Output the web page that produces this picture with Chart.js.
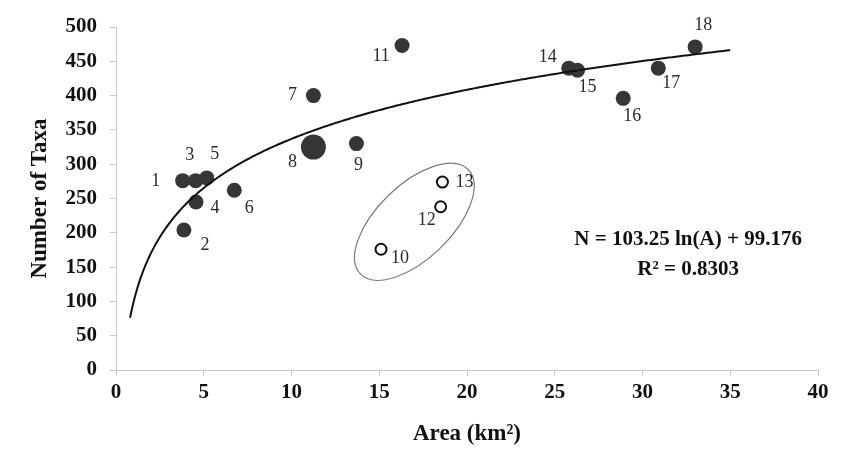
<!DOCTYPE html>
<html>
<head>
<meta charset="utf-8">
<script src="https://cdn.jsdelivr.net/npm/chart.js@4"></script>
<style>
  html, body { margin: 0; padding: 0; background: #fff; }
  #wrap { width: 855px; height: 472px; }
</style>
</head>
<body>
<div id="wrap"><canvas id="taxa-chart" width="855" height="472"></canvas></div>
<script>
'use strict';

// Sites
var siteIds = [1, 2, 3, 4, 5, 6, 7, 8, 9, 10, 11, 12, 13, 14, 15, 16, 17, 18];
var areas = [3.80, 3.87, 4.54, 4.56, 5.17, 6.74, 11.25, 11.25, 13.7, 15.1, 16.3, 18.5, 18.6, 25.8, 26.3, 28.9, 30.9, 33.0];
var taxa = [276, 204, 276, 245, 280, 262, 400, 325, 330, 176, 473, 238, 274, 440, 437, 396, 440, 471];
var openSites = [10, 12, 13];
var bigSites = [8];

// Fitted log curve shown on the chart
var fitSlope = 103.25;
var fitIntercept = 99.176;
var fitRange = [0.8, 35];
var equationLines = ['N = 103.25 ln(A) + 99.176', 'R\u00b2 = 0.8303'];

// Label offsets (px) for each site number
var labelOffsets = {
  1: [-27, 1], 2: [21, 15], 3: [-6, -25], 4: [19, 6], 5: [8, -24], 6: [15, 18],
  7: [-21, 0], 8: [-21, 15], 9: [2, 22], 10: [19, 9], 11: [-21, 11], 12: [-14, 14],
  13: [22, 0], 14: [-21, -11], 15: [10, 17], 16: [9, 18], 17: [13, 15], 18: [8, -22]
};

var filledPts = [];
var bigPts = [];
var openPts = [];
for (var i = 0; i < siteIds.length; i++) {
  var p = { x: areas[i], y: taxa[i], id: siteIds[i] };
  if (openSites.indexOf(siteIds[i]) >= 0) openPts.push(p);
  else if (bigSites.indexOf(siteIds[i]) >= 0) bigPts.push(p);
  else filledPts.push(p);
}

var curvePts = [];
for (var a = fitRange[0]; a <= fitRange[1] + 1e-9; a += 0.1) {
  curvePts.push({ x: a, y: fitSlope * Math.log(a) + fitIntercept });
}

var serif = "'Liberation Serif', 'Times New Roman', serif";

// Site numbers, ellipse round the open sites, and the equation
var annotations = {
  id: 'annotations',
  afterDatasetsDraw: function (chart) {
    var ctx = chart.ctx;
    var xs = chart.scales.x, ys = chart.scales.y;
    ctx.save();
    // ellipse
    ctx.beginPath();
    ctx.strokeStyle = '#7a7a7a';
    ctx.lineWidth = 1.2;
    ctx.ellipse(xs.getPixelForValue(17.0), ys.getPixelForValue(216), 75, 37, -44 * Math.PI / 180, 0, Math.PI * 2);
    ctx.stroke();

    ctx.fillStyle = '#2a2a2a';
    ctx.font = '18px ' + serif;
    ctx.textAlign = 'center';
    ctx.textBaseline = 'middle';
    for (var i = 0; i < siteIds.length; i++) {
      var off = labelOffsets[siteIds[i]];
      ctx.fillText(String(siteIds[i]), xs.getPixelForValue(areas[i]) + off[0], ys.getPixelForValue(taxa[i]) + off[1]);
    }

    ctx.font = 'bold 21px ' + serif;
    ctx.fillStyle = '#111';
    ctx.fillText(equationLines[0], xs.getPixelForValue(32.6), ys.getPixelForValue(190));
    ctx.fillText(equationLines[1], xs.getPixelForValue(32.6), ys.getPixelForValue(146));
    ctx.restore();
  }
};

var ctx = document.getElementById('taxa-chart').getContext('2d');

var taxaChart = new Chart(ctx, {
  type: 'scatter',
  data: {
    datasets: [
      {
        type: 'line',
        data: curvePts,
        borderColor: '#111',
        borderWidth: 2,
        pointRadius: 0,
        fill: false,
        tension: 0
      },
      {
        data: filledPts,
        pointRadius: 7.5,
        pointBackgroundColor: '#363636',
        pointBorderColor: '#363636',
        pointBorderWidth: 0
      },
      {
        data: bigPts,
        pointRadius: 12.5,
        pointBackgroundColor: '#363636',
        pointBorderColor: '#363636',
        pointBorderWidth: 0
      },
      {
        data: openPts,
        pointRadius: 5.5,
        pointBackgroundColor: '#fff',
        pointBorderColor: '#111',
        pointBorderWidth: 2
      }
    ]
  },
  options: {
    responsive: false,
    animation: false,
    events: [],
    layout: { padding: { left: 0, right: 37, top: 27, bottom: 0 } },
    plugins: { legend: { display: false }, tooltip: { enabled: false } },
    scales: {
      x: {
        type: 'linear',
        min: 0,
        max: 40,
        afterFit: function (scale) { scale.height = 102; },
        ticks: { stepSize: 5, color: '#111', padding: 4, font: { family: serif, size: 21, weight: 'bold' } },
        grid: { drawOnChartArea: false, color: '#c8c8c8', tickLength: 6 },
        border: { color: '#c8c8c8' },
        title: { display: true, text: 'Area (km\u00b2)', color: '#111', padding: { bottom: 24 }, font: { family: serif, size: 23, weight: 'bold' } }
      },
      y: {
        min: 0,
        max: 500,
        afterFit: function (scale) { scale.width = 116; },
        ticks: { stepSize: 50, color: '#111', padding: 13, font: { family: serif, size: 21, weight: 'bold' } },
        grid: { drawOnChartArea: false, color: '#c8c8c8', tickLength: 6 },
        border: { color: '#c8c8c8' },
        title: { display: true, text: 'Number of Taxa', color: '#111', padding: { top: 26 }, font: { family: serif, size: 23, weight: 'bold' } }
      }
    }
  },
  plugins: [annotations]
});
</script>
</body>
</html>
